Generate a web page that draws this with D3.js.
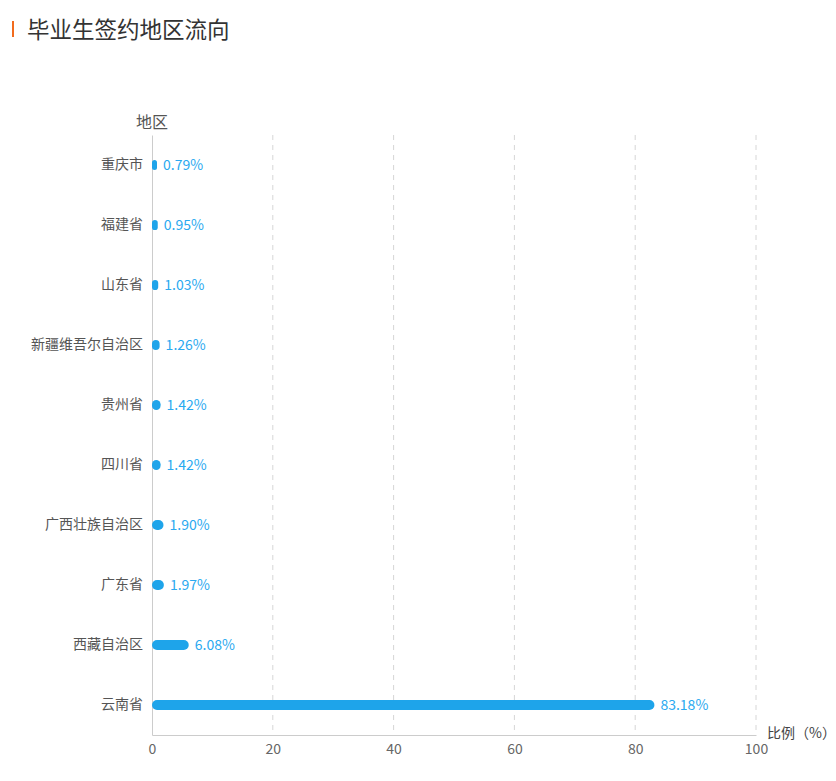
<!DOCTYPE html>
<html><head><meta charset="utf-8">
<script src="https://cdn.jsdelivr.net/npm/d3@7"></script>
<style>body{margin:0;background:#fff;} svg{display:block;font-family:"Noto Sans CJK SC","Noto Sans",sans-serif;}</style>
</head><body>
<svg id="c" width="836" height="781"></svg>
<script>
const categories = ["重庆市","福建省","山东省","新疆维吾尔自治区","贵州省","四川省","广西壮族自治区","广东省","西藏自治区","云南省"];
const values = [0.79,0.95,1.03,1.26,1.42,1.42,1.90,1.97,6.08,83.18];
const xTicks = [0,20,40,60,80,100];
const title = "毕业生签约地区流向";
const yName = "地区";
const xName = "比例（%）";

const svg = d3.select("#c");
const m = {l:152, r:756, t:135, b:735};
const x = d3.scaleLinear().domain([0,100]).range([m.l, m.r]);
const y = d3.scaleBand().domain(categories).range([m.t, m.b]);

// title
svg.append("rect").attr("x",12).attr("y",21).attr("width",2).attr("height",16).attr("fill","#f26b1d");
svg.append("text").attr("x",27).attr("y",38).attr("font-size",22.5).attr("fill","#333").text(title);

// grid
svg.append("g").selectAll("line").data(xTicks.filter(d=>d>0)).join("line")
  .attr("x1",d=>x(d)).attr("x2",d=>x(d)).attr("y1",m.t).attr("y2",m.b)
  .attr("stroke","#d6d6d6").attr("stroke-dasharray","5,5");

// x axis
const xa = svg.append("g").attr("transform",`translate(0,${m.b})`)
  .call(d3.axisBottom(x).tickValues(xTicks).tickSize(0).tickPadding(9));
xa.select(".domain").attr("stroke","#ccc");
xa.selectAll("text").attr("font-size",14).attr("fill","#666").attr("font-family","'Noto Sans CJK SC',sans-serif");

// y axis
const ya = svg.append("g").attr("transform",`translate(${m.l},0)`)
  .call(d3.axisLeft(y).tickSize(0).tickPadding(9));
ya.select(".domain").attr("stroke","#ccc");
ya.selectAll("text").attr("font-size",14).attr("fill","#555").attr("font-family","'Noto Sans CJK SC',sans-serif");

// bars
const bh = 10;
svg.append("g").selectAll("rect").data(values).join("rect")
  .attr("x",x(0)).attr("y",(d,i)=>y(categories[i])+y.bandwidth()/2-bh/2)
  .attr("width",d=>Math.max(x(d)-x(0),5)).attr("height",bh)
  .attr("rx",d=>Math.min(5,Math.max(x(d)-x(0),5)/2))
  .attr("fill","#1ea4ea");

svg.append("g").selectAll("text").data(values).join("text")
  .attr("x",d=>Math.max(x(d),x(0)+5)+6).attr("y",(d,i)=>y(categories[i])+y.bandwidth()/2)
  .attr("dy","0.35em").attr("font-size",14).attr("fill","#2aa9f0")
  .text(d=>d.toFixed(2)+"%");

// axis names
svg.append("text").attr("x",m.l).attr("y",128).attr("text-anchor","middle").attr("font-size",16).attr("fill","#555").text(yName);
svg.append("text").attr("x",767).attr("y",738).attr("font-size",14).attr("fill","#444").text(xName);
</script>
</body></html>
